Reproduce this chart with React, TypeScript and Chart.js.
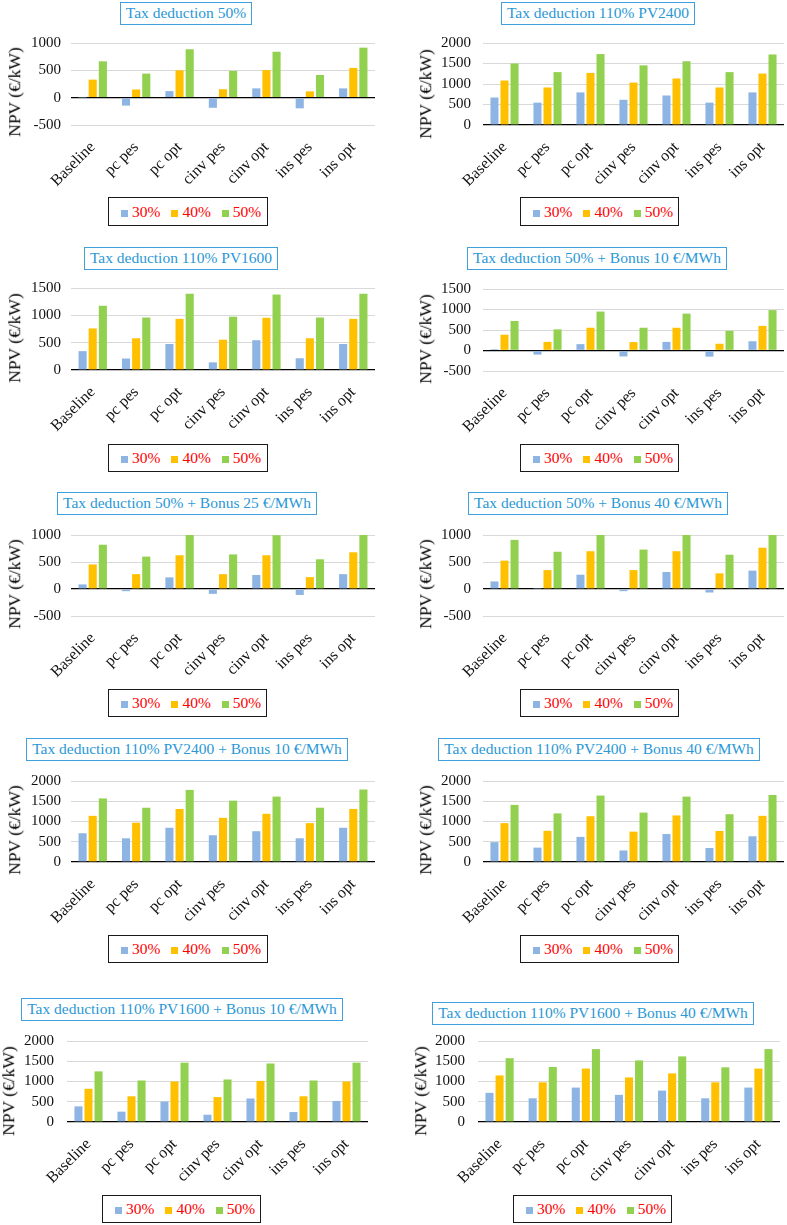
import React, { useEffect, useRef } from 'react';
import { Chart, registerables } from 'chart.js';

Chart.register(...registerables);

const FONT = "'Liberation Serif', 'Times New Roman', serif";

// ---------- data ----------
const categories = ['Baseline', 'pc pes', 'pc opt', 'cinv pes', 'cinv opt', 'ins pes', 'ins opt'];
const seriesLabels = ['30%', '40%', '50%'];
const seriesColors = ['#8DB4E2', '#FFC000', '#92D050'];

const ticksNeg1000 = [-500, 0, 500, 1000];
const ticks1500 = [0, 500, 1000, 1500];
const ticksNeg1500 = [-500, 0, 500, 1000, 1500];
const ticks2000 = [0, 500, 1000, 1500, 2000];

// 1 Tax deduction 50%
const td50_30 = [5, -145, 120, -185, 170, -195, 170];
const td50_40 = [330, 150, 500, 155, 505, 115, 545];
const td50_50 = [665, 440, 885, 490, 840, 415, 915];

// 2 Tax deduction 110% PV2400
const td110a_30 = [670, 545, 795, 615, 720, 545, 795];
const td110a_40 = [1085, 915, 1270, 1035, 1135, 915, 1255];
const td110a_50 = [1500, 1290, 1730, 1455, 1555, 1290, 1720];

// 3 Tax deduction 110% PV1600
const td110b_30 = [345, 210, 475, 140, 545, 215, 475];
const td110b_40 = [760, 580, 935, 555, 955, 580, 935];
const td110b_50 = [1175, 960, 1395, 975, 1380, 960, 1395];

// 4 Tax deduction 50% + Bonus 10
const td50b10_30 = [30, -100, 155, -145, 210, -150, 225];
const td50b10_40 = [385, 210, 555, 205, 555, 165, 600];
const td50b10_50 = [720, 515, 950, 555, 900, 480, 985];

// 5 Tax deduction 50% + Bonus 25
const td50b25_30 = [85, -40, 215, -90, 260, -110, 275];
const td50b25_40 = [455, 275, 625, 275, 625, 220, 680];
const td50b25_50 = [820, 600, 1000, 640, 995, 550, 1000];

// 6 Tax deduction 50% + Bonus 40
const td50b40_30 = [140, 5, 265, -40, 315, -65, 340];
const td50b40_40 = [525, 350, 700, 350, 700, 290, 765];
const td50b40_50 = [910, 690, 1000, 730, 1000, 635, 1000];

// 7 Tax deduction 110% PV2400 + Bonus 10
const td110ab10_30 = [710, 585, 845, 660, 760, 585, 845];
const td110ab10_40 = [1140, 970, 1310, 1090, 1190, 960, 1310];
const td110ab10_50 = [1570, 1340, 1780, 1515, 1615, 1340, 1790];

// 8 Tax deduction 110% PV2400 + Bonus 40
const td110ab40_30 = [490, 355, 620, 285, 690, 345, 635];
const td110ab40_40 = [960, 770, 1130, 750, 1150, 765, 1140];
const td110ab40_50 = [1410, 1200, 1640, 1220, 1615, 1180, 1655];

// 9 Tax deduction 110% PV1600 + Bonus 10
const td110bb10_30 = [385, 255, 505, 180, 580, 245, 520];
const td110bb10_40 = [820, 635, 1000, 615, 1015, 635, 1000];
const td110bb10_50 = [1250, 1025, 1465, 1050, 1445, 1025, 1465];

// 10 Tax deduction 110% PV1600 + Bonus 40
const td110bb40_30 = [720, 585, 850, 670, 775, 585, 850];
const td110bb40_40 = [1150, 980, 1320, 1100, 1200, 980, 1320];
const td110bb40_50 = [1575, 1360, 1800, 1520, 1620, 1350, 1800];

const titles = [
  'Tax deduction 50%',
  'Tax deduction 110% PV2400',
  'Tax deduction 110% PV1600',
  'Tax deduction 50% + Bonus 10 €/MWh',
  'Tax deduction 50% + Bonus 25 €/MWh',
  'Tax deduction 50% + Bonus 40 €/MWh',
  'Tax deduction 110% PV2400 + Bonus 10 €/MWh',
  'Tax deduction 110% PV2400 + Bonus 40 €/MWh',
  'Tax deduction 110% PV1600 + Bonus 10 €/MWh',
  'Tax deduction 110% PV1600 + Bonus 40 €/MWh',
];

const seriesSets = [
  [td50_30, td50_40, td50_50],
  [td110a_30, td110a_40, td110a_50],
  [td110b_30, td110b_40, td110b_50],
  [td50b10_30, td50b10_40, td50b10_50],
  [td50b25_30, td50b25_40, td50b25_50],
  [td50b40_30, td50b40_40, td50b40_50],
  [td110ab10_30, td110ab10_40, td110ab10_50],
  [td110ab40_30, td110ab40_40, td110ab40_50],
  [td110bb10_30, td110bb10_40, td110bb10_50],
  [td110bb40_30, td110bb40_40, td110bb40_50],
];

const tickSets = [
  ticksNeg1000, ticks2000, ticks1500, ticksNeg1500, ticksNeg1000,
  ticksNeg1000, ticks2000, ticks2000, ticks2000, ticks2000,
];

// ---------- layout (page pixels) ----------
// plot area [left, top, right, bottom]
const areas = [
  [71, 43, 375, 125], [483, 43, 784, 125],
  [71, 288, 375, 370], [483, 289, 784, 371],
  [71, 535, 375, 616], [483, 535, 784, 616],
  [71, 781, 375, 862], [483, 781, 784, 862],
  [67, 1041, 368, 1122], [478, 1041, 780, 1122],
];
const tickPads = [10, 12, 10, 12, 10, 12, 10, 12, 13, 13];
// title box [centerX, top]
const titleBoxes = [
  [186, 2], [598, 2], [181, 247], [597, 247], [187, 492],
  [598, 492], [187, 738], [599, 738], [182, 998], [593, 1002],
];
// y axis title center [x, y]
const yTitlePos = [
  [15, 92], [426, 94], [15, 338], [426, 339], [15, 584],
  [426, 584], [15, 830], [426, 830], [9, 1091], [421, 1091],
];
// legend box [left, top, width, height]
const legendBoxes = [
  [108, 197, 160, 29], [520, 197, 159, 29], [108, 444, 160, 28], [520, 444, 159, 28],
  [108, 689, 159, 28], [520, 689, 159, 28], [108, 935, 160, 28], [520, 935, 159, 28],
  [102, 1195, 159, 28], [513, 1195, 159, 28],
];

const Y_W = 60;
const PAD_TOP = 12;
const PAD_RIGHT = 3;
const X_H = 72;

function Panel({ idx }: { idx: number }) {
  const ref = useRef<HTMLCanvasElement>(null);
  const [L, T, R, B] = areas[idx];
  const cl = L - Y_W;
  const ct = T - PAD_TOP;
  const cw = R - L + Y_W + PAD_RIGHT;
  const ch = B - T + PAD_TOP + X_H;
  const yt = tickSets[idx];

  useEffect(() => {
    const chart = new Chart(ref.current as HTMLCanvasElement, {
      type: 'bar',
      data: {
        labels: categories,
        datasets: seriesSets[idx].map((d, i) => ({
          label: seriesLabels[i],
          data: d,
          backgroundColor: seriesColors[i],
          borderWidth: 0,
          categoryPercentage: 0.7,
          barPercentage: 0.8,
        })),
      },
      options: {
        animation: false,
        responsive: false,
        events: [],
        layout: { padding: { top: PAD_TOP, right: PAD_RIGHT, left: 0, bottom: 0 } },
        plugins: {
          legend: { display: false },
          title: { display: false },
          tooltip: { enabled: false },
        },
        scales: {
          x: {
            grid: { display: false, drawTicks: false },
            border: { display: false },
            ticks: {
              autoSkip: false,
              maxRotation: 45,
              minRotation: 45,
              padding: 13,
              color: '#111',
              font: { family: FONT, size: 16 },
            },
            afterFit: (s: any) => {
              s.height = X_H;
              s.paddingLeft = 0;
              s.paddingRight = 0;
            },
          },
          y: {
            min: yt[0],
            max: yt[yt.length - 1],
            border: { display: false },
            grid: {
              drawTicks: false,
              color: (c: any) => (c.tick && c.tick.value === 0 ? '#000' : '#D9D9D9'),
              lineWidth: (c: any) => (c.tick && c.tick.value === 0 ? 1.3 : 1),
            },
            ticks: {
              autoSkip: false,
              stepSize: 500,
              padding: tickPads[idx],
              color: '#111',
              font: { family: FONT, size: 15 },
              callback: (v: any) => String(v),
            },
            afterFit: (s: any) => {
              s.width = Y_W;
              s.paddingTop = 0;
              s.paddingBottom = 0;
            },
          },
        },
      },
    });
    return () => chart.destroy();
  }, [idx]);

  const [tcx, ttop] = titleBoxes[idx];
  const [ycx, ycy] = yTitlePos[idx];
  const [lx, ly, lw, lh] = legendBoxes[idx];

  return (
    <>
      <canvas
        ref={ref}
        width={cw}
        height={ch}
        style={{ position: 'absolute', left: cl, top: ct, width: cw, height: ch }}
      />
      <div
        style={{
          position: 'absolute',
          left: tcx - 200,
          top: ttop,
          width: 400,
          display: 'flex',
          justifyContent: 'center',
        }}
      >
        <div
          style={{
            border: '1.5px solid #3FA0DC',
            padding: '0 5px',
            height: 23,
            boxSizing: 'border-box',
            lineHeight: '20px',
            fontFamily: FONT,
            fontSize: 15.5,
            color: '#2A98D6',
            whiteSpace: 'nowrap',
            background: '#fff',
          }}
        >
          {titles[idx]}
        </div>
      </div>
      <div
        style={{
          position: 'absolute',
          left: ycx,
          top: ycy,
          transform: 'translate(-50%, -50%) rotate(-90deg)',
          whiteSpace: 'nowrap',
          fontFamily: FONT,
          fontSize: 17.5,
          lineHeight: 1,
          color: '#000',
        }}
      >
        NPV (€/kW)
      </div>
      <div
        style={{
          position: 'absolute',
          left: lx,
          top: ly,
          width: lw,
          height: lh,
          boxSizing: 'border-box',
          border: '1.5px solid #1a1a1a',
          display: 'flex',
          alignItems: 'center',
          paddingLeft: 12,
          fontFamily: FONT,
          fontSize: 15.5,
          lineHeight: 1,
          color: '#FF0000',
        }}
      >
        {seriesLabels.map((lab, i) => (
          <span
            key={lab}
            style={{ display: 'inline-flex', alignItems: 'baseline', marginRight: i < 2 ? 11 : 0 }}
          >
            <span
              style={{
                display: 'inline-block',
                width: 7,
                height: 7,
                background: seriesColors[i],
                marginRight: 4,
              }}
            />
            {lab}
          </span>
        ))}
      </div>
    </>
  );
}

export default function App() {
  return (
    <div
      style={{
        position: 'absolute',
        left: 0,
        top: 0,
        width: 787,
        height: 1225,
        background: '#fff',
        overflow: 'hidden',
      }}
    >
      {titles.map((_, i) => (
        <Panel key={i} idx={i} />
      ))}
    </div>
  );
}
